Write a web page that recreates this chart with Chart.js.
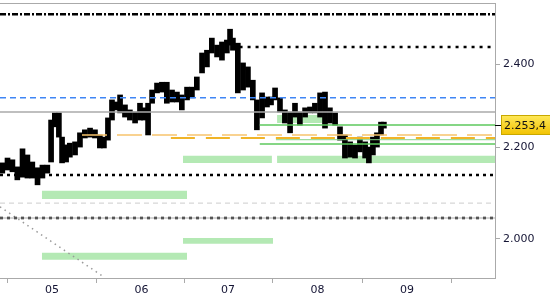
<!DOCTYPE html>
<html>
<head>
<meta charset="utf-8">
<script src="https://cdn.jsdelivr.net/npm/chart.js@4/dist/chart.umd.min.js"></script>
<style>
  html, body { margin: 0; padding: 0; background: #fff; }
  #wrap { width: 550px; height: 300px; }
</style>
</head>
<body>
<div id="wrap"><canvas id="priceChart"></canvas></div>
<script>
// x is days counted from 1 May
const barDays = [-17.2, -15.4, -13.7, -12.0, -10.2, -8.5, -6.8, -5.0, -3.3, -1.6,
  -0.3, 1.0, 2.4, 3.5, 4.9, 6.2, 8.0, 9.7, 11.4, 13.2,
  14.9, 16.6, 18.0, 19.4, 20.8, 22.2, 23.6, 25.3, 27.0, 28.8,
  30.5, 31.9, 33.3, 34.7, 36.4, 38.1, 39.8, 41.6, 43.3, 45.0,
  46.8, 48.5, 50.2, 52.0, 53.7, 55.4, 57.2, 58.9, 60.6, 61.7,
  62.7, 64.4, 66.2, 67.9, 69.6, 71.0, 72.8, 74.5, 75.9, 77.3,
  79.0, 80.7, 82.5, 84.2, 85.9, 87.7, 89.4, 91.1, 92.9, 94.6,
  96.3, 98.1, 99.8, 101.5, 103.3, 105.0, 106.7, 108.5, 109.8, 111.2,
  112.6, 114.0, 115.0];
const barLows = [2142, 2149, 2145, 2127, 2133, 2131, 2131, 2116, 2131, 2142,
  2167, 2248, 2224, 2165, 2167, 2178, 2183, 2201, 2222, 2224,
  2222, 2199, 2199, 2217, 2264, 2288, 2281, 2271, 2264, 2257,
  2264, 2264, 2229, 2304, 2329, 2331, 2304, 2307, 2307, 2288,
  2312, 2317, 2336, 2378, 2393, 2428, 2418, 2410, 2428, 2448,
  2435, 2329, 2336, 2343, 2312, 2241, 2269, 2295, 2300, 2312,
  2283, 2257, 2234, 2271, 2252, 2271, 2281, 2281, 2271, 2245,
  2257, 2252, 2217, 2176, 2178, 2176, 2190, 2176, 2165, 2183,
  2201, 2229, 2245];
const barHighs = [2165, 2176, 2172, 2156, 2197, 2183, 2167, 2154, 2160, 2160,
  2264, 2281, 2281, 2224, 2206, 2210, 2213, 2234, 2241, 2245,
  2241, 2229, 2224, 2269, 2312, 2307, 2324, 2300, 2288, 2283,
  2304, 2293, 2304, 2336, 2353, 2355, 2355, 2336, 2331, 2324,
  2343, 2343, 2368, 2428, 2435, 2466, 2448, 2456, 2461, 2489,
  2466, 2453, 2403, 2393, 2360, 2312, 2329, 2319, 2319, 2341,
  2317, 2288, 2283, 2304, 2283, 2293, 2295, 2304, 2329, 2331,
  2293, 2281, 2248, 2229, 2213, 2206, 2224, 2213, 2201, 2224,
  2234, 2259, 2259];
const lastClose = 2253.4;

const monthDays = [0, 31, 61, 92, 123];
const monthLabels = ["05", "06", "07", "08", "09"];
const yTicks = [2000, 2200, 2400];
const xFirst = -18.0;
const xLast = 153.5;

// horizontal levels
const levelValues = [2528, 2443, 2317, 2283, 2252, 2229, 2222, 2218, 2208, 2138, 2076, 2044, 2044];
const levelStarts = [xFirst, 65, xFirst, xFirst, 72, 10.4, 41.2, 77.6, 72, xFirst, xFirst, xFirst, xFirst];

// green zones
const zoneStarts = [78.0, 45.4, 78.0, -3.5, 45.4, -3.5];
const zoneEnds = [96.3, 76.2, xLast, 46.8, 76.6, 46.8];
const zoneTops = [2276, 2181, 2181, 2103, 2002, 1971];
const zoneBottoms = [2257, 2165, 2165, 2085, 1990, 1957];

// dotted trend line
const trendDays = [xFirst, 18.0];
const trendValues = [2068, 1922];

const levelStyles = [
  { color: "#000000", width: 2.5, dash: [6, 2, 2, 2] },
  { color: "#000000", width: 2.5, dash: [3, 5] },
  { color: "#3f86f5", width: 1.5, dash: [6, 4] },
  { color: "#aaaaaa", width: 1.5, dash: [] },
  { color: "#5cc85c", width: 1.5, dash: [] },
  { color: "#f7c46c", width: 1.5, dash: [25, 10] },
  { color: "#f0b428", width: 2, dash: [24, 11] },
  { color: "#86d486", width: 1, dash: [] },
  { color: "#5cc85c", width: 1.5, dash: [] },
  { color: "#000000", width: 2.5, dash: [3, 4] },
  { color: "#cccccc", width: 1, dash: [5, 4] },
  { color: "#aaaaaa", width: 1, dash: [] },
  { color: "#000000", width: 2.5, dash: [3, 4] }
];

const FONT = "'DejaVu Sans', Verdana, sans-serif";
const TICK_COLOR = "#141434";
const GREY = "#aaaaaa";

function fmtThousands(v) {
  return String(v).replace(/\B(?=(\d{3})+(?!\d))/g, ".");
}

function noPadding(s) {
  s.paddingTop = 0;
  s.paddingBottom = 0;
  s.paddingLeft = 0;
  s.paddingRight = 0;
}

const datasets = [];

datasets.push({
  type: "bar",
  data: barDays.map((d, i) => ({ x: d, y: [barLows[i], barHighs[i]] })),
  backgroundColor: "#000000",
  borderWidth: 0,
  barThickness: 5,
  order: 1
});

levelValues.forEach((v, i) => {
  const st = levelStyles[i];
  datasets.push({
    type: "line",
    data: [{ x: levelStarts[i], y: v }, { x: xLast, y: v }],
    borderColor: st.color,
    borderWidth: st.width,
    borderDash: st.dash,
    pointRadius: 0,
    fill: false,
    order: 0
  });
});

datasets.push({
  type: "line",
  data: trendDays.map((d, i) => ({ x: d, y: trendValues[i] })),
  borderColor: "#999999",
  borderWidth: 1.5,
  borderDash: [1.5, 4],
  pointRadius: 0,
  fill: false,
  order: 0
});

zoneStarts.forEach((s, i) => {
  datasets.push({
    type: "line",
    data: [{ x: s, y: zoneTops[i] }, { x: zoneEnds[i], y: zoneTops[i] }],
    borderWidth: 0,
    pointRadius: 0,
    backgroundColor: "#b4e9b4",
    fill: "+1",
    order: 5
  });
  datasets.push({
    type: "line",
    data: [{ x: s, y: zoneBottoms[i] }, { x: zoneEnds[i], y: zoneBottoms[i] }],
    borderWidth: 0,
    pointRadius: 0,
    fill: false,
    order: 5
  });
});

const priceTag = {
  id: "priceTag",
  afterDraw(chart) {
    const ctx = chart.ctx;
    const yScale = chart.scales.y;
    const area = chart.chartArea;
    const y = Math.round(yScale.getPixelForValue(lastClose));
    ctx.save();
    ctx.strokeStyle = "#000";
    ctx.lineWidth = 1;
    ctx.beginPath();
    ctx.moveTo(area.right, y + 0.5);
    ctx.lineTo(area.right + 6, y + 0.5);
    ctx.stroke();
    const g = ctx.createLinearGradient(0, y - 10, 0, y + 10);
    g.addColorStop(0, "#ffe95a");
    g.addColorStop(1, "#f2c200");
    ctx.fillStyle = g;
    ctx.fillRect(area.right + 6, y - 10, 52, 20);
    ctx.strokeStyle = "#c8a800";
    ctx.strokeRect(area.right + 6.5, y - 9.5, 52, 19);
    ctx.fillStyle = "#111";
    ctx.font = "11px " + FONT;
    ctx.textBaseline = "middle";
    ctx.fillText(fmtThousands(Math.floor(lastClose)) + "," + String(lastClose).split(".")[1], area.right + 9, y + 1);
    ctx.restore();
  }
};

new Chart(document.getElementById("priceChart"), {
  type: "bar",
  data: { datasets },
  plugins: [priceTag],
  options: {
    responsive: true,
    maintainAspectRatio: false,
    animation: false,
    layout: { padding: 0 },
    plugins: { legend: { display: false }, tooltip: { enabled: false } },
    scales: {
      x: {
        type: "linear",
        position: "bottom",
        min: xFirst,
        max: xLast,
        offset: false,
        afterBuildTicks: (s) => { s.ticks = monthDays.map((v) => ({ value: v })); },
        afterFit: (s) => { s.height = 22; noPadding(s); },
        ticks: {
          autoSkip: false,
          maxRotation: 0,
          padding: 1,
          color: TICK_COLOR,
          font: { family: FONT, size: 11 },
          callback: (v) => monthLabels[monthDays.indexOf(v)]
        },
        grid: { drawOnChartArea: false, drawTicks: true, tickLength: 5, color: GREY },
        border: { color: GREY }
      },
      xTop: {
        type: "linear",
        position: "top",
        min: xFirst,
        max: xLast,
        afterFit: (s) => { s.height = 3; noPadding(s); },
        ticks: { display: false },
        grid: { display: false },
        border: { color: GREY }
      },
      y: {
        type: "logarithmic",
        position: "right",
        min: 1920,
        max: 2558,
        afterBuildTicks: (s) => { s.ticks = yTicks.map((v) => ({ value: v })); },
        afterFit: (s) => { s.width = 55; noPadding(s); },
        ticks: {
          padding: 3,
          color: TICK_COLOR,
          font: { family: FONT, size: 11 },
          callback: (v) => fmtThousands(v)
        },
        grid: { drawOnChartArea: false, drawTicks: true, tickLength: 5, color: GREY },
        border: { color: GREY }
      }
    }
  }
});
</script>
</body>
</html>
